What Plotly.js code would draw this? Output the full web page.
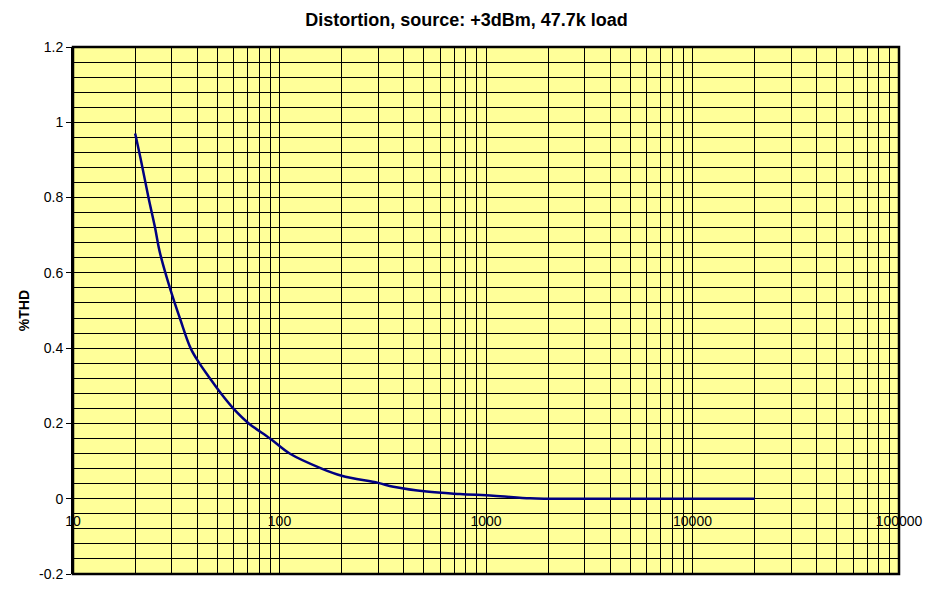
<!DOCTYPE html>
<html>
<head>
<meta charset="utf-8">
<script src="https://cdn.plot.ly/plotly-3.0.1.min.js"></script>
<style>html,body{margin:0;padding:0;background:#fff;}#chart{width:933px;height:591px;}</style>
</head>
<body>
<div id="chart"></div>
<script>
// Data
var freqHz = [20, 21.5, 23.2, 24.9, 26.4, 30, 33, 37.1, 40.9, 46, 52, 59.7, 71, 90, 112, 160, 200, 300, 356, 516, 748, 1084, 1633, 2000, 5000, 10000, 20000];
var thdPct = [0.97, 0.89, 0.80, 0.723, 0.652, 0.546, 0.478, 0.40, 0.36, 0.32, 0.28, 0.24, 0.20, 0.16, 0.12, 0.08, 0.061, 0.042, 0.032, 0.019, 0.0125, 0.008, 0.001, 0, 0, 0, 0];

var xDecades = [10, 100, 1000, 10000, 100000];
var xDecadeLabels = ['10', '100', '1000', '10000', '100000'];
var yTickVals = [-0.2, 0, 0.2, 0.4, 0.6, 0.8, 1, 1.2];
var yTickText = ['-0.2', '0', '0.2', '0.4', '0.6', '0.8', '1', '1.2'];

// vertical gridlines at every 1..9 x decade, labels only on decades
var xTickVals = [], xTickText = [];
xDecades.forEach(function (d, i) {
  if (i < xDecades.length - 1) {
    for (var m = 1; m <= 9; m++) {
      xTickVals.push(d * m);
      xTickText.push(m === 1 ? xDecadeLabels[i] : '');
    }
  } else {
    xTickVals.push(d);
    xTickText.push(xDecadeLabels[i]);
  }
});

var font = 'Liberation Sans, Arial, sans-serif';

var trace = {
  x: freqHz,
  y: thdPct,
  type: 'scatter',
  mode: 'lines',
  line: {color: '#000080', width: 2.5, shape: 'spline', smoothing: 1},
  hoverinfo: 'x+y'
};

var layout = {
  width: 933,
  height: 591,
  margin: {l: 73, r: 34, t: 47, b: 17, pad: 0},
  paper_bgcolor: '#ffffff',
  plot_bgcolor: '#FFFF99',
  showlegend: false,
  font: {family: font, size: 14, color: '#000'},
  title: {
    text: '<b>Distortion, source: +3dBm, 47.7k load</b>',
    font: {family: font, size: 18, color: '#000'},
    x: 0.5, xref: 'container', xanchor: 'center',
    y: 1 - 20 / 591, yref: 'container', yanchor: 'middle'
  },
  xaxis: {
    type: 'log',
    range: [1, 5],
    tickmode: 'array',
    tickvals: xTickVals,
    ticktext: xTickText,
    showgrid: true,
    gridcolor: '#000',
    gridwidth: 1,
    showline: false,
    zeroline: false,
    ticks: '',
    anchor: 'free',
    position: 0.2 / 1.4,
    ticklabelstandoff: 12,
    tickfont: {family: font, size: 14, color: '#000'},
    fixedrange: true
  },
  yaxis: {
    range: [-0.2, 1.2],
    tickmode: 'array',
    tickvals: yTickVals,
    ticktext: yTickText,
    showgrid: true,
    gridcolor: '#000',
    gridwidth: 1,
    minor: {tickmode: 'linear', tick0: 0, dtick: 0.04, showgrid: true, gridcolor: '#000', gridwidth: 1, ticks: ''},
    zeroline: false,
    showline: true,
    linecolor: '#000',
    linewidth: 2,
    ticks: 'outside',
    ticklen: 5,
    tickwidth: 1,
    tickcolor: '#000',
    tickfont: {family: font, size: 14, color: '#000'},
    title: {text: '<b>%THD</b>', font: {family: font, size: 14, color: '#000'}, standoff: 6},
    fixedrange: true
  },
  shapes: [{
    type: 'rect', xref: 'paper', yref: 'paper', x0: 0, x1: 1, y0: 0, y1: 1,
    line: {color: '#000', width: 2.5}, fillcolor: 'rgba(0,0,0,0)', layer: 'above'
  }]
};

Plotly.newPlot('chart', [trace], layout, {displayModeBar: false, staticPlot: true});
</script>
</body>
</html>
